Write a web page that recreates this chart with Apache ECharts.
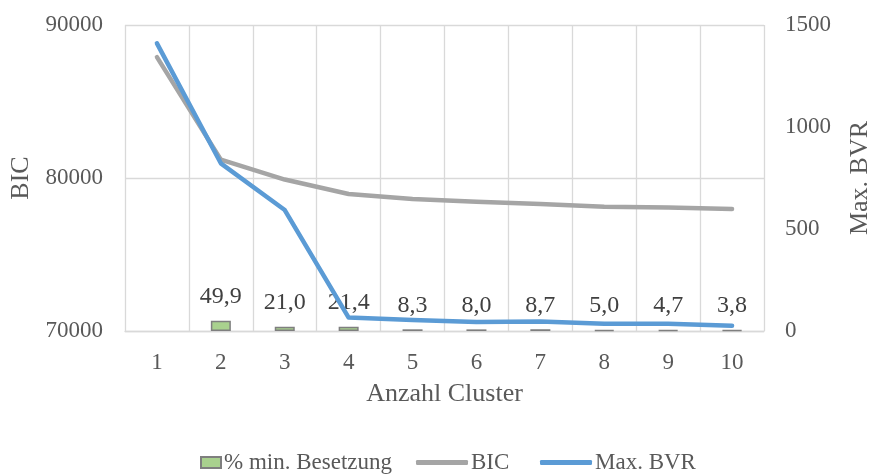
<!DOCTYPE html>
<html>
<head>
<meta charset="utf-8">
<script src="https://cdn.jsdelivr.net/npm/echarts@6/dist/echarts.min.js"></script>
<style>
html,body{margin:0;padding:0;background:#fff;}
#chart{width:869px;height:475px;}
</style>
</head>
<body>
<div id="chart"></div>
<script>
const categories = ['1','2','3','4','5','6','7','8','9','10'];
const minBesetzung = [null, 49.9, 21.0, 21.4, 8.3, 8.0, 8.7, 5.0, 4.7, 3.8];
const bicValues = [87900, 81200, 79900, 78950, 78630, 78450, 78300, 78120, 78080, 77970];
const maxBVR = [1410, 822, 593, 66, 54, 44, 47, 35, 36, 26];

const FONT = 'Liberation Serif';
const TXT = '#595959';
const GRID = '#D9D9D9';

const chart = echarts.init(document.getElementById('chart'), null, {renderer: 'canvas'});
const legendText = {fontFamily: FONT, fontSize: 23, color: TXT, padding: [0, 0, 0, -2]};
chart.setOption({
  animation: false,
  backgroundColor: '#fff',
  grid: {left: 125, right: 105, top: 25, bottom: 144, containLabel: false, outerBoundsMode: 'none'},
  legend: [
    {data: [{name: '% min. Besetzung', icon: 'rect'}], left: 200, top: 451, itemWidth: 20, itemHeight: 11, textStyle: legendText, padding: 0},
    {data: [{name: 'BIC', icon: 'roundRect'}], left: 416, top: 451, itemWidth: 52, itemHeight: 5, textStyle: legendText, padding: 0},
    {data: [{name: 'Max. BVR', icon: 'roundRect'}], left: 540, top: 451, itemWidth: 52, itemHeight: 5, textStyle: legendText, padding: 0}
  ],
  xAxis: {
    type: 'category',
    data: categories,
    boundaryGap: true,
    name: 'Anzahl Cluster',
    nameLocation: 'middle',
    nameGap: 50,
    nameTextStyle: {fontFamily: FONT, fontSize: 26, color: TXT},
    axisLine: {show: true, lineStyle: {color: GRID, width: 1.3}},
    axisTick: {show: false},
    axisLabel: {fontFamily: FONT, fontSize: 23, color: TXT, margin: 20},
    splitLine: {show: true, lineStyle: {color: GRID, width: 1.3}}
  },
  yAxis: [
    {
      type: 'value', min: 70000, max: 90000, interval: 10000,
      name: 'BIC', nameLocation: 'middle', nameGap: 85, nameRotate: 90,
      nameTextStyle: {fontFamily: FONT, fontSize: 26, color: TXT},
      axisLine: {show: false}, axisTick: {show: false},
      axisLabel: {fontFamily: FONT, fontSize: 23, color: TXT, margin: 22, formatter: v => String(v)},
      splitLine: {show: true, lineStyle: {color: GRID, width: 1.3}}
    },
    {
      type: 'value', min: 0, max: 1500, interval: 500, position: 'right',
      name: 'Max. BVR', nameLocation: 'middle', nameGap: 83, nameRotate: 90,
      nameTextStyle: {fontFamily: FONT, fontSize: 26, color: TXT},
      axisLine: {show: false}, axisTick: {show: false},
      axisLabel: {fontFamily: FONT, fontSize: 23, color: TXT, margin: 21, formatter: v => String(v)},
      splitLine: {show: false}
    }
  ],
  series: [
    {
      name: '% min. Besetzung', type: 'bar', yAxisIndex: 1, data: minBesetzung,
      barWidth: 20,
      itemStyle: {color: '#A9D18E', borderColor: '#7F7F7F', borderWidth: 1.5},
      label: {
        show: true, position: 'top', distance: 12,
        fontFamily: FONT, fontSize: 24, color: '#404040',
        formatter: p => p.value == null ? '' : p.value.toFixed(1).replace('.', ',')
      },
      z: 2
    },
    {
      name: 'BIC', type: 'line', yAxisIndex: 0, data: bicValues,
      symbol: 'none', lineStyle: {color: '#A5A5A5', width: 4.5, cap: 'round', join: 'round'},
      itemStyle: {color: '#A5A5A5'}, z: 3
    },
    {
      name: 'Max. BVR', type: 'line', yAxisIndex: 1, data: maxBVR,
      symbol: 'none', lineStyle: {color: '#5B9BD5', width: 4.5, cap: 'round', join: 'round'},
      itemStyle: {color: '#5B9BD5'}, z: 4
    }
  ]
});
</script>
</body>
</html>
